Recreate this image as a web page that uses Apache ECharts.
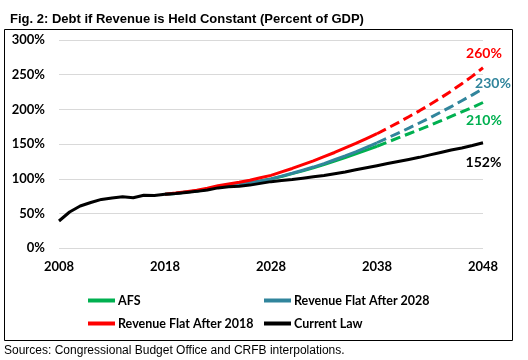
<!DOCTYPE html>
<html>
<head>
<meta charset="utf-8">
<script src="https://cdn.jsdelivr.net/npm/echarts@6/dist/echarts.min.js"></script>
<style>
html,body{margin:0;padding:0;background:#fff;}
#c{width:528px;height:360px;}
</style>
</head>
<body>
<div id="c"></div>
<script>
// ---- data ----
var years = [2008,2009,2010,2011,2012,2013,2014,2015,2016,2017,2018,2019,2020,2021,2022,2023,2024,2025,2026,2027,2028,2029,2030,2031,2032,2033,2034,2035,2036,2037,2038,2039,2040,2041,2042,2043,2044,2045,2046,2047,2048];
var currentLaw = [39.3,52.3,60.9,65.9,70.4,72.6,74.1,72.9,76.4,76.0,78,79,80.5,82,84,87,88.5,89.5,91,93.5,96,97.5,99,101,103,105,107.5,110,113,116,119,122,125,128,131,134.5,138,141.5,144.5,148,152];
// projections from 2018 to 2048
var projYears = years.slice(10);
var afs = [78,79,81,82.5,85,88.5,90.5,92.5,94.5,97,100,103.5,107.5,111.5,116,120.5,125.5,130.5,136,141.5,147,153,159,165,171,177,183.5,190,196.5,203,210];
var flat2028 = [78,79,81,82.5,85,88.5,90.5,92.5,94.5,97,100,104,108,112.5,117,122,127.5,133,139,145.5,152,159,166,173,180.5,188,196,204,212.5,221,230];
var flat2018 = [78,79.5,81.5,83.5,86.5,90,92.5,95,98,101.5,105,110,115,120.5,126,132,138,144.5,151,158,165,173,181,189.5,198,207,216.5,226.5,237,248,260];
var dashFromYear = 2038;
var endLabels = {afs:'210%', flat2028:'230%', flat2018:'260%', currentLaw:'152%'};
var yTicks = [0,50,100,150,200,250,300];
var xTicks = [2008,2018,2028,2038,2048];

var names = {afs:'AFS', flat2028:'Revenue Flat After 2028', flat2018:'Revenue Flat After 2018', currentLaw:'Current Law'};
var colors = {afs:'#00B050', flat2028:'#31859C', flat2018:'#FF0000', currentLaw:'#000000'};

function pairs(xs, vs){ return xs.map(function(x,i){return [x, vs[i]];}); }
function solidPart(xs, vs){ var p = pairs(xs, vs); return p.filter(function(d){return d[0] <= dashFromYear;}); }
function dashPart(xs, vs){ var p = pairs(xs, vs); return p.filter(function(d){return d[0] >= dashFromYear;}); }

var series = [];
[['afs',afs],['flat2028',flat2028],['flat2018',flat2018]].forEach(function(s){
  var key = s[0], vals = s[1];
  series.push({name:names[key], type:'line', data:solidPart(projYears, vals), symbol:'none', smooth:false,
    lineStyle:{color:colors[key], width:3}, itemStyle:{color:colors[key]}});
  series.push({name:names[key]+' (dash)', type:'line', data:dashPart(projYears, vals), symbol:'none',
    lineStyle:{color:colors[key], width:3, type:[10,5]}, itemStyle:{color:colors[key]}});
});
series.push({name:names.currentLaw, type:'line', data:pairs(years, currentLaw), symbol:'none',
  lineStyle:{color:colors.currentLaw, width:3}, itemStyle:{color:colors.currentLaw}});

var legendText = {color:'#000', fontFamily:'Lato', fontWeight:'bold', fontSize:12.5, padding:[0,0,0,-2]};

var chart = echarts.init(document.getElementById('c'), null, {renderer:'canvas'});
var option = {
  animation:false,
  backgroundColor:'#fff',
  title:{text:'Fig. 2: Debt if Revenue is Held Constant (Percent of GDP)', left:5, top:8,
    textStyle:{fontFamily:'Liberation Sans', fontWeight:'bold', fontSize:13, color:'#000'}},
  grid:{left:59, right:45, top:40, bottom:111.7},
  xAxis:{type:'value', min:2008, max:2048, interval:10,
    axisLine:{show:false}, axisTick:{show:false}, splitLine:{show:false},
    axisLabel:{color:'#000', fontFamily:'Lato', fontWeight:'bold', fontSize:13, margin:12,
      formatter:function(v){return xTicks.indexOf(v)>=0 ? String(v) : '';}}},
  yAxis:{type:'value', min:0, max:300, interval:50,
    axisLine:{show:false}, axisTick:{show:false},
    splitLine:{lineStyle:{color:'#D9D9D9', width:1}},
    axisLabel:{color:'#000', fontFamily:'Lato', fontWeight:'bold', fontSize:13, margin:14,
      formatter:function(v){return yTicks.indexOf(v)>=0 ? v+'%' : '';}}},
  legend:[
    {left:83, top:289, orient:'vertical', itemGap:10, itemWidth:27, itemHeight:4, icon:'rect',
      data:[names.afs, names.flat2018], textStyle:legendText},
    {left:259, top:289, orient:'vertical', itemGap:10, itemWidth:27, itemHeight:4, icon:'rect',
      data:[names.flat2028, names.currentLaw], textStyle:legendText}
  ],
  graphic:[
    {type:'rect', shape:{x:4.5, y:29.5, width:508, height:311}, style:{fill:'none', stroke:'#000', lineWidth:1}, silent:true},
    {type:'text', left:4, top:345, style:{text:'Sources: Congressional Budget Office and CRFB interpolations.', font:'12px "Liberation Sans"', fill:'#000'}}
  ],
  series:series
};
chart.setOption(option);

// end labels positioned from data via the chart's own scales
var labelDefs = [
  {key:'flat2018', value:flat2018[flat2018.length-1], dx:1, dy:-14},
  {key:'flat2028', value:flat2028[flat2028.length-1], dx:10, dy:-5},
  {key:'afs', value:afs[afs.length-1], dx:1, dy:18},
  {key:'currentLaw', value:currentLaw[currentLaw.length-1], dx:0.5, dy:20}
];
var g = option.graphic.slice();
labelDefs.forEach(function(d){
  var pt = chart.convertToPixel({gridIndex:0}, [2048, d.value]);
  g.push({type:'text', x:pt[0]+d.dx, y:pt[1]+d.dy, style:{text:endLabels[d.key], fill:colors[d.key],
    font:'bold 14px Lato', textAlign:'center', textVerticalAlign:'middle'}, silent:true});
});
chart.setOption({graphic:g});
</script>
</body>
</html>
